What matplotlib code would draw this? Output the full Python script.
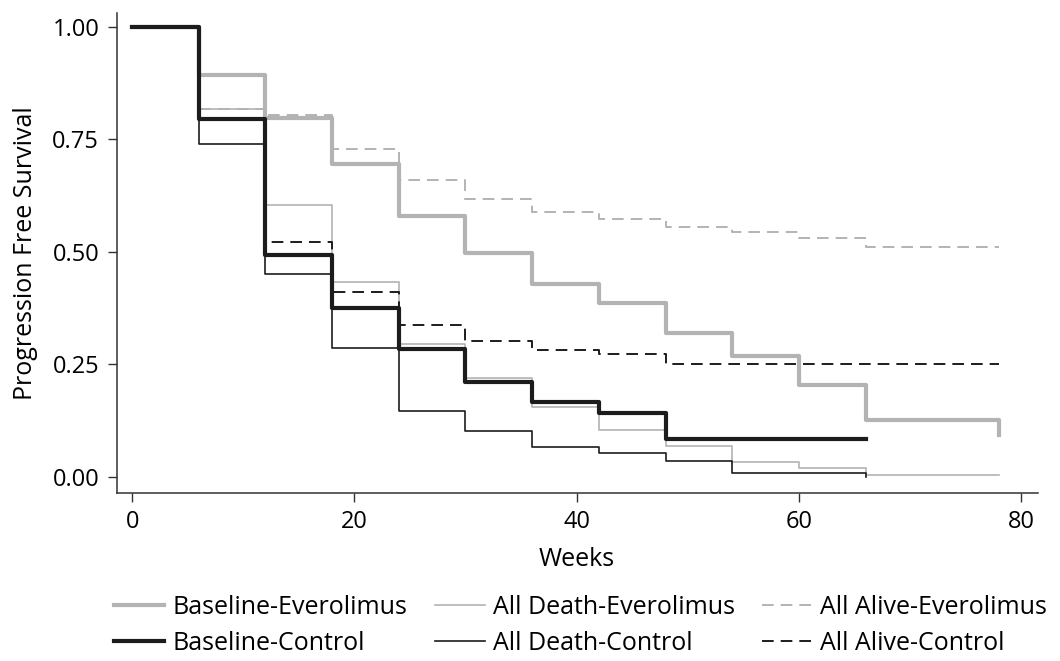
import matplotlib
matplotlib.use("Agg")
import matplotlib.pyplot as plt

plt.rcParams['font.family'] = ['Open Sans', 'DejaVu Sans']

# week grid of the step changes
weeks = [0, 6, 12, 18, 24, 30, 36, 42, 48, 54, 60, 66, 72, 78]

# survival value on each 6-week interval, plus where each curve stops
base_evero = [1.0, 0.893, 0.797, 0.695, 0.58, 0.497, 0.428, 0.387, 0.32, 0.269, 0.204, 0.127, 0.127]
base_evero_end = (78, 0.093)
base_ctrl = [1.0, 0.795, 0.493, 0.376, 0.284, 0.211, 0.167, 0.142, 0.084, 0.084, 0.084]
base_ctrl_end = (66, 0.084)
death_evero = [1.0, 0.817, 0.604, 0.433, 0.296, 0.22, 0.156, 0.104, 0.068, 0.033, 0.02, 0.005, 0.005]
death_evero_end = (78, 0.005)
death_ctrl = [1.0, 0.74, 0.451, 0.286, 0.147, 0.102, 0.067, 0.053, 0.035, 0.009, 0.009]
death_ctrl_end = (66, 0.0)
alive_evero = [1.0, 0.817, 0.804, 0.729, 0.66, 0.618, 0.589, 0.573, 0.556, 0.544, 0.531, 0.511, 0.511]
alive_evero_end = (78, 0.511)
alive_ctrl = [1.0, 0.795, 0.522, 0.411, 0.338, 0.302, 0.282, 0.273, 0.251, 0.251, 0.251, 0.251, 0.251]
alive_ctrl_end = (78, 0.251)

labels = ['Baseline-Everolimus', 'All Death-Everolimus', 'All Alive-Everolimus',
          'Baseline-Control', 'All Death-Control', 'All Alive-Control']

gray = '#b3b3b3'
black = '#1c1c1c'
dash = (0, (6, 3.6))


def curve(vals, end):
    x = weeks[:len(vals)] + [end[0], end[0]]
    y = vals + [vals[-1], end[1]]
    return x, y


fig = plt.figure(figsize=(10.6, 6.61), dpi=100)
ax = fig.add_axes([0.110, 0.254, 0.869, 0.726])

h = {}
x, y = curve(alive_evero, alive_evero_end)
h[2], = ax.step(x, y, where='post', color=gray, lw=1.4, linestyle=dash)
x, y = curve(death_evero, death_evero_end)
h[1], = ax.step(x, y, where='post', color=gray, lw=1.2)
x, y = curve(base_evero, base_evero_end)
h[0], = ax.step(x, y, where='post', color=gray, lw=3.0)
x, y = curve(alive_ctrl, alive_ctrl_end)
h[5], = ax.step(x, y, where='post', color=black, lw=1.4, linestyle=dash)
x, y = curve(death_ctrl, death_ctrl_end)
h[4], = ax.step(x, y, where='post', color=black, lw=1.2)
x, y = curve(base_ctrl, base_ctrl_end)
h[3], = ax.step(x, y, where='post', color=black, lw=3.0)

ax.set_xlim(-1.4, 81.5)
ax.set_ylim(-0.036, 1.03)
ax.set_xticks([0, 20, 40, 60, 80])
ax.set_yticks([0, 0.25, 0.5, 0.75, 1.0])
ax.set_yticklabels(['0.00', '0.25', '0.50', '0.75', '1.00'])
for s in ['top', 'right']:
    ax.spines[s].set_visible(False)
for s in ['left', 'bottom']:
    ax.spines[s].set_linewidth(1.1)
    ax.spines[s].set_color('#333333')
ax.tick_params(length=6.5, width=1.0, color='#333333', labelsize=17, pad=6)
ax.set_xlabel('Weeks', fontsize=18, labelpad=9)
ax.set_ylabel('Progression Free Survival', fontsize=18, labelpad=10)

order = [0, 3, 1, 4, 2, 5]
fig.legend([h[i] for i in order], [labels[i] for i in order], ncol=3,
           loc='upper left', bbox_to_anchor=(0.108, 0.1), frameon=False,
           fontsize=18, handlelength=2.0, handletextpad=0.32,
           columnspacing=1.1, labelspacing=0.45, borderpad=0, borderaxespad=0)

fig.savefig('out.png', dpi=100)
